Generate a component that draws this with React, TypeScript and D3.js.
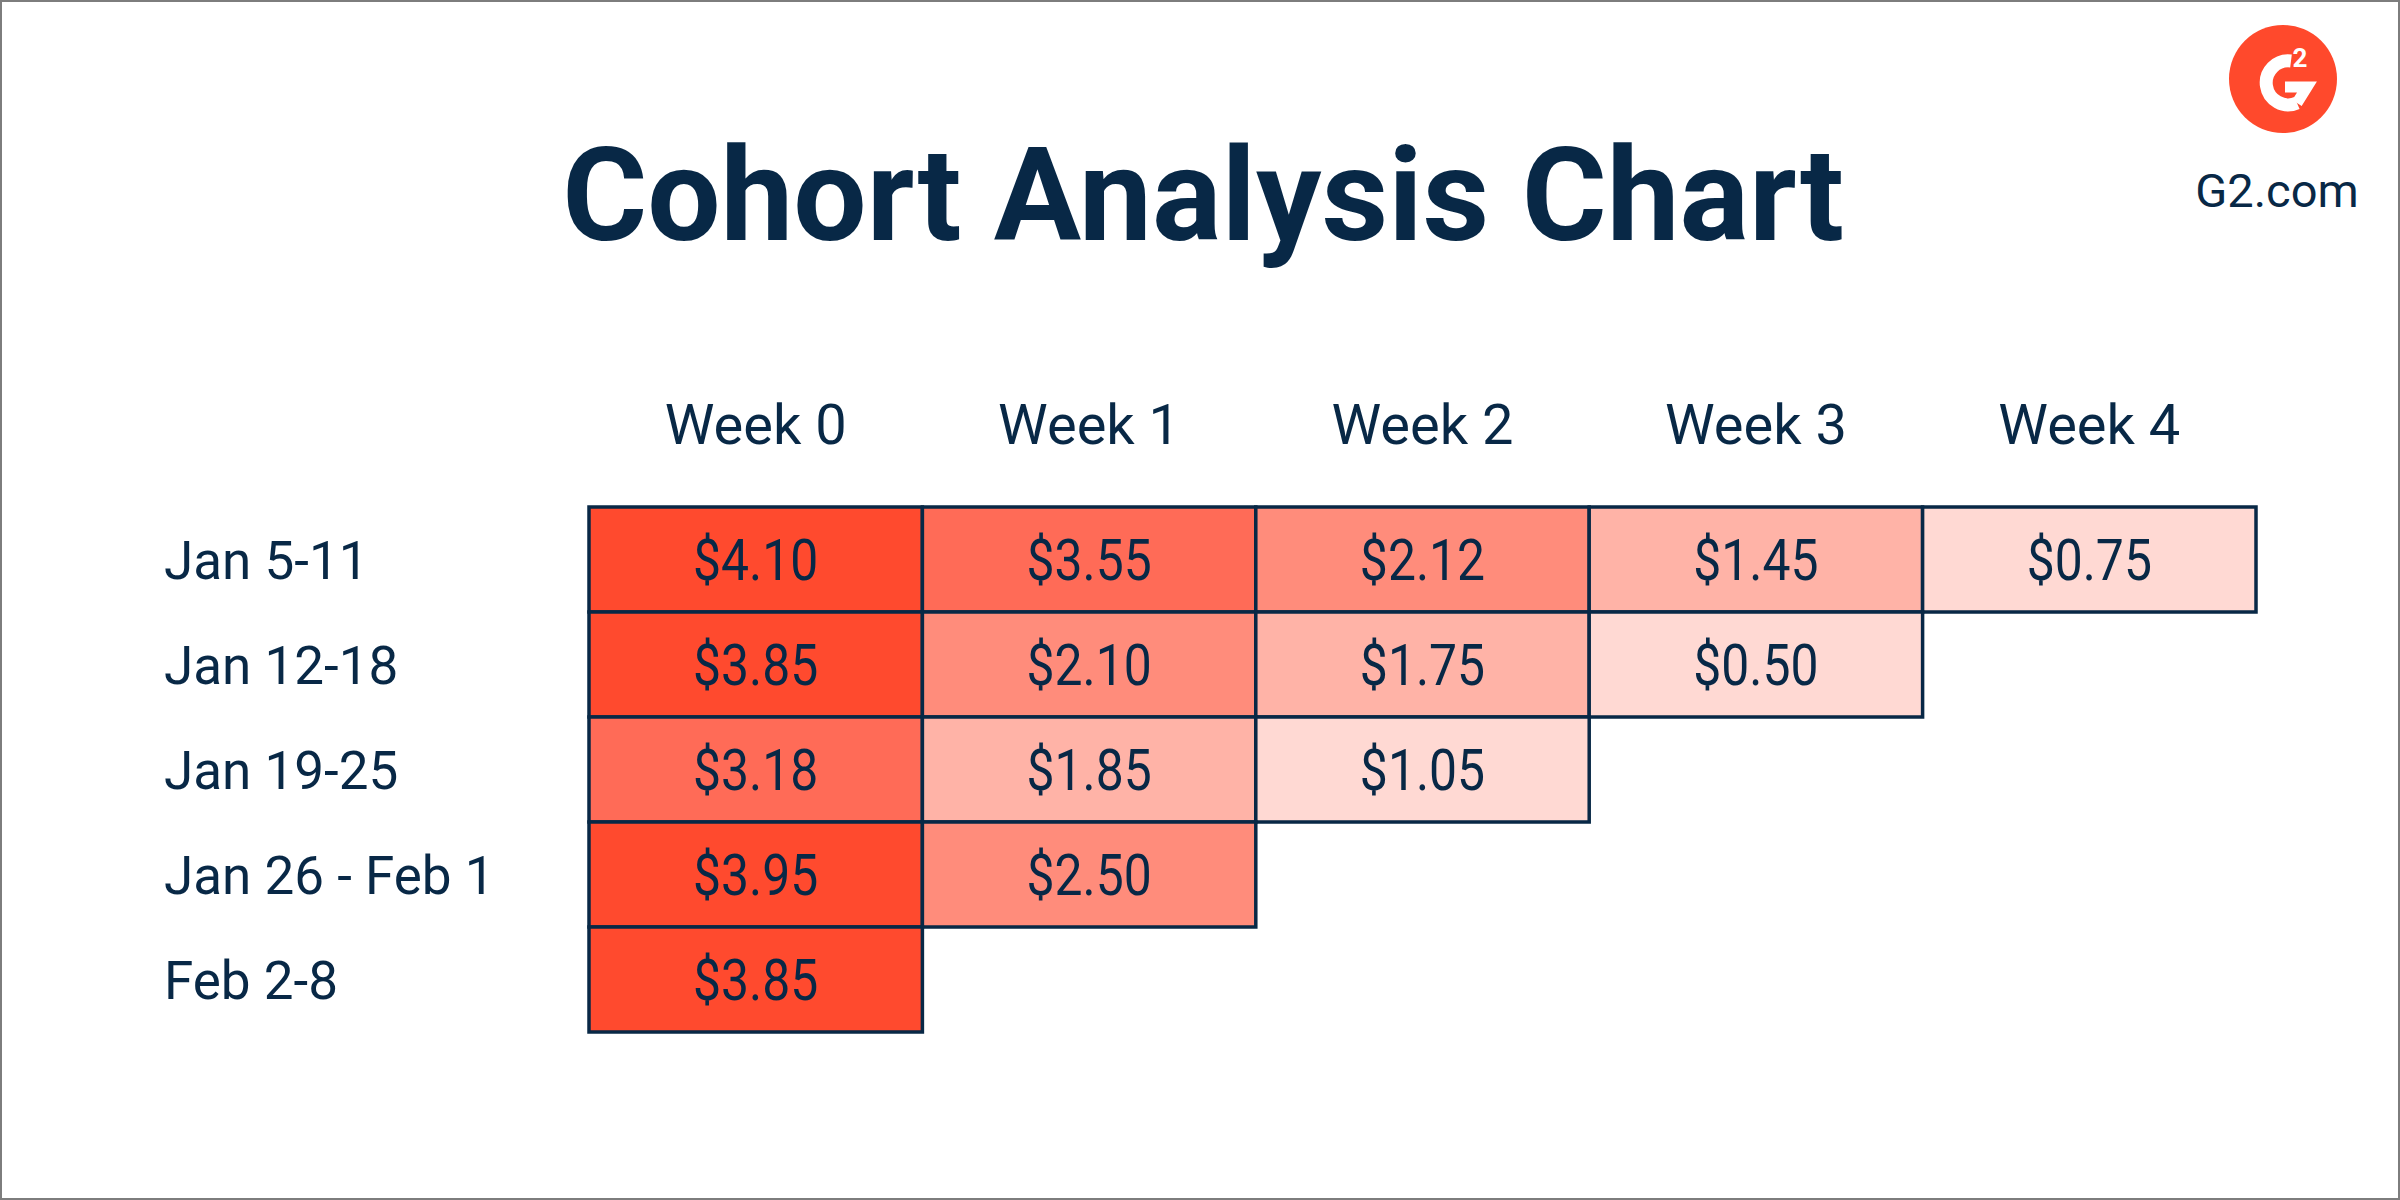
import * as d3 from "d3";
import { useEffect } from "react";

const weeks = ["Week 0", "Week 1", "Week 2", "Week 3", "Week 4"];
const cohorts = ["Jan 5-11", "Jan 12-18", "Jan 19-25", "Jan 26 - Feb 1", "Feb 2-8"];
const revenue = [
  [4.1, 3.55, 2.12, 1.45, 0.75],
  [3.85, 2.1, 1.75, 0.5],
  [3.18, 1.85, 1.05],
  [3.95, 2.5],
  [3.85],
];
const shades = ["#ffd9d3", "#ffb3a7", "#ff8c7b", "#ff6b57", "#ff4a2e"];
const shadeBreaks = [1.2, 2.0, 3.0, 3.7];

const W = 2400;
const H = 1200;
const navy = "#082846";

export default function App() {
  useEffect(() => {
    document.body.style.margin = "0";
  }, []);

  const x = d3.scaleBand<string>().domain(weeks).range([589, 2256]);
  const y = d3.scaleBand<string>().domain(cohorts).range([507, 1032]);
  const color = d3.scaleThreshold<number, string>().domain(shadeBreaks).range(shades);
  const fmt = d3.format("$.2f");

  const cells = revenue.flatMap((row, i) =>
    row.map((v, j) => ({ cohort: cohorts[i], week: weeks[j], v }))
  );

  return (
    <svg width={W} height={H} style={{ display: "block" }}>
      <rect x={0} y={0} width={W} height={H} fill="#fff" />
      <rect x={1} y={1} width={W - 2} height={H - 2} fill="none" stroke="#7d7d7d" strokeWidth={2} />

      <text
        x={1203}
        y={240}
        textAnchor="middle"
        fontFamily="Roboto, 'Noto Sans', sans-serif"
        fontWeight={700}
        fontSize={130}
        fill={navy}
      >
        Cohort Analysis Chart
      </text>

      {/* G2 logo */}
      <g transform="translate(2283,79)">
        <circle r={54} fill="#ff492c" />
        <path d="M 8 -18 A 22 22 0 1 0 14 24" fill="none" stroke="#fff" strokeWidth={13} />
        <path d="M 2 8 L 24 8 L 14 24" fill="none" stroke="#fff" strokeWidth={11} />
        <text x={17} y={-12} textAnchor="middle" fontFamily="Roboto, sans-serif" fontWeight={700} fontSize={26} fill="#fff">
          2
        </text>
      </g>
      <text x={2277} y={207} textAnchor="middle" fontFamily="Roboto, sans-serif" fontSize={47} fill={navy}>
        G2.com
      </text>

      {weeks.map((w) => (
        <text
          key={w}
          x={x(w)! + x.bandwidth() / 2}
          y={444}
          textAnchor="middle"
          fontFamily="Roboto, sans-serif"
          fontSize={56}
          fill={navy}
        >
          {w}
        </text>
      ))}

      {cohorts.map((c) => (
        <text
          key={c}
          x={164}
          y={y(c)! + y.bandwidth() / 2}
          dy="0.36em"
          fontFamily="Roboto, sans-serif"
          fontSize={53}
          fill={navy}
        >
          {c}
        </text>
      ))}

      {cells.map((d) => (
        <g key={d.cohort + d.week}>
          <rect
            x={x(d.week)}
            y={y(d.cohort)}
            width={x.bandwidth()}
            height={y.bandwidth()}
            fill={color(d.v)}
            stroke={navy}
            strokeWidth={3.5}
          />
          <text
            transform={`translate(${x(d.week)! + x.bandwidth() / 2},${y(d.cohort)! + y.bandwidth() / 2}) scale(0.86,1)`}
            dy="0.36em"
            textAnchor="middle"
            fontFamily="Roboto, sans-serif"
            fontSize={58}
            fill={navy}
          >
            {fmt(d.v)}
          </text>
        </g>
      ))}
    </svg>
  );
}
